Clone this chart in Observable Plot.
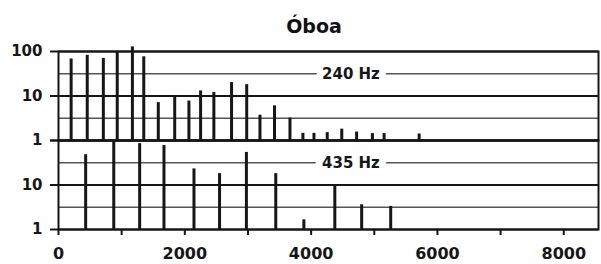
<!DOCTYPE html>
<html><head><meta charset="utf-8">
<script src="https://cdn.jsdelivr.net/npm/d3@7"></script>
<script src="https://cdn.jsdelivr.net/npm/@observablehq/plot@0.6"></script>
<style>
body{margin:0;background:#fff;width:601px;height:264px;overflow:hidden;}
#title{position:relative;height:38px;}
#title span{position:absolute;left:314px;top:14px;transform:translateX(-50%);font:bold 19px "DejaVu Sans",sans-serif;color:#111;line-height:24px;}
#chart svg{display:block;}
</style></head><body>
<div id="title"><span>Óboa</span></div>
<div id="chart"></div>
<script>
// Panels (fundamental frequency of each spectrum)
const panels = ["240 Hz", "435 Hz"];

// Upper spectrum (240 Hz): partial frequency (Hz) and relative amplitude
const freq240 = [200, 455, 710, 930, 1170, 1350, 1580, 1840, 2065, 2250, 2460, 2740,
                 2980, 3190, 3420, 3665, 3870, 4045, 4255, 4485, 4720, 4970, 5155, 5710];
const amp240  = [68, 82, 70, 100, 127, 76, 7.1, 10, 7.7, 13, 12, 20,
                 18, 3.7, 6, 3.2, 1.45, 1.45, 1.5, 1.8, 1.55, 1.43, 1.43, 1.4];

// Lower spectrum (435 Hz)
const freq435 = [430, 875, 1285, 1670, 2145, 2550, 2975, 3440, 3885, 4375, 4800, 5260];
const amp435  = [48, 96, 85, 77, 23, 18, 54, 18, 1.65, 10, 3.6, 3.3];

// Axis / grid values
const decadeTicks = [1, 10, 100];
const halfDecadeGrid = [3.16, 31.6];
const yLabels240 = [1, 10, 100];
const yLabels435 = [1, 10];
const xTicks = [0, 1000, 2000, 3000, 4000, 5000, 6000, 7000, 8000];
const xLabels = [0, 2000, 4000, 6000, 8000];

const bars = [
  ...freq240.map((f, i) => ({panel: panels[0], f, a: amp240[i]})),
  ...freq435.map((f, i) => ({panel: panels[1], f, a: amp435[i]}))
];
const majorGrid = panels.flatMap(p => decadeTicks.map(v => ({p, v})));
const minorGrid = panels.flatMap(p => halfDecadeGrid.map(v => ({p, v})));
const yLabelData = [
  ...yLabels240.map(v => ({p: panels[0], v})),
  ...yLabels435.map(v => ({p: panels[1], v}))
];

const ink = "#161616";

const chart = Plot.plot({
  width: 601,
  height: 226,
  marginTop: 12,
  marginBottom: 35,
  marginLeft: 58,
  marginRight: 3,
  style: {fontFamily: '"DejaVu Sans", sans-serif', fontWeight: "bold", color: ink, background: "#fff", overflow: "visible"},
  x: {domain: [0, 8550]},
  y: {type: "log", domain: [1, 100]},
  fy: {domain: panels, padding: 0, axis: null},
  marks: [
    Plot.ruleY(minorGrid, {y: "v", fy: "p", stroke: "#555", strokeWidth: 1.5}),
    Plot.ruleY(majorGrid, {y: "v", fy: "p", stroke: ink, strokeWidth: 2}),
    Plot.frame({stroke: ink, strokeWidth: 2}),
    Plot.ruleX(bars, {x: "f", y1: 1, y2: "a", fy: "panel", stroke: ink, strokeWidth: 3}),
    Plot.text(panels, {fy: d => d, x: 4630, y: halfDecadeGrid[1], text: d => d, fontSize: 15,
                       fill: ink, stroke: "white", strokeWidth: 14}),
    Plot.axisY({ticks: decadeTicks, tickSize: 8, tickFormat: () => "", label: null, stroke: ink, strokeWidth: 2}),
    Plot.text(yLabelData, {fy: "p", y: "v", text: d => String(d.v), frameAnchor: "left", dx: -16,
                           textAnchor: "end", fontSize: 15, fill: ink}),
    Plot.axisX({ticks: xTicks, tickSize: 6, tickPadding: 12, label: null, fontSize: 16, stroke: ink, strokeWidth: 2,
                tickFormat: d => xLabels.includes(d) ? String(d) : ""})
  ]
});
document.getElementById("chart").appendChild(chart);
</script>
</body></html>
